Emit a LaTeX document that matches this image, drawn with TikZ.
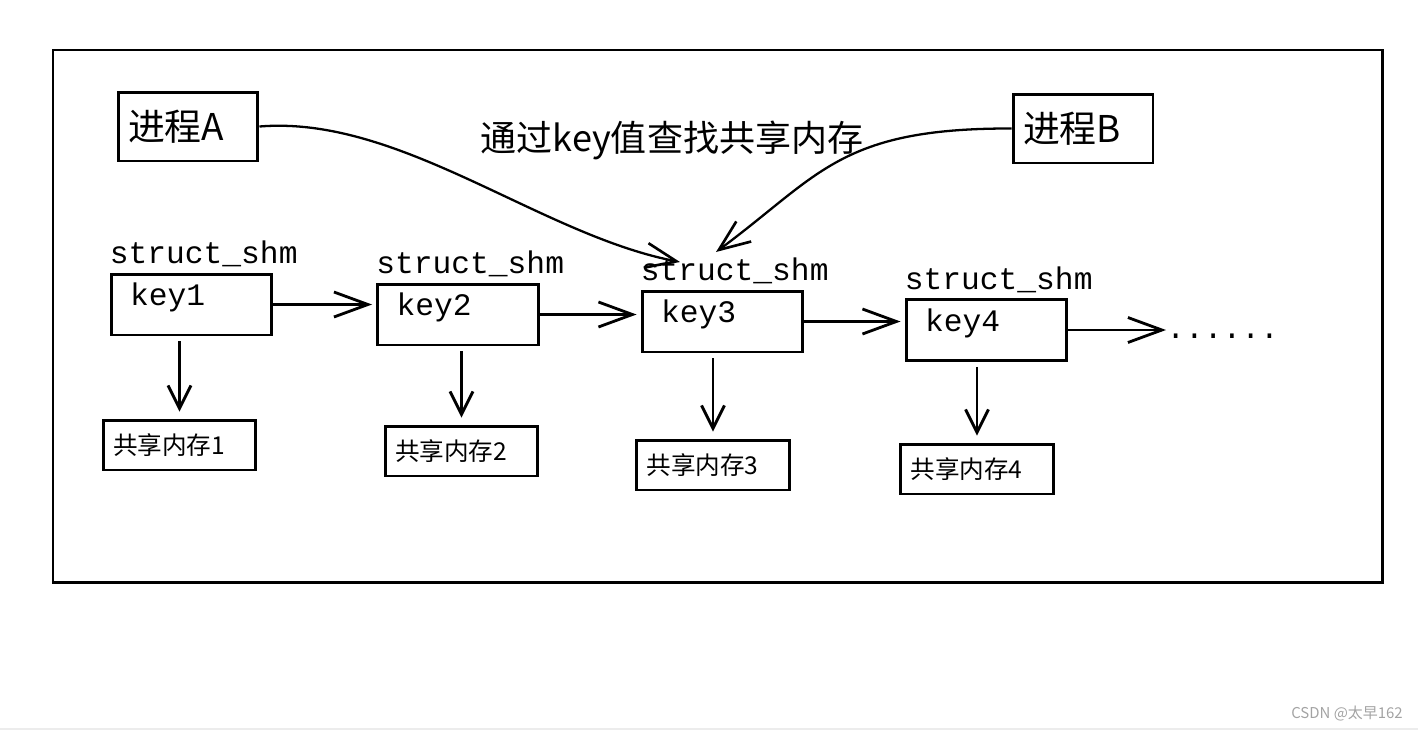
\documentclass[tikz,border=0pt]{standalone}
\usepackage{fontspec}
\setmainfont{Liberation Serif}
\setmonofont{Liberation Mono}
\newfontfamily\cjk{Noto Sans CJK SC}
\usetikzlibrary{arrows.meta, calc}
\definecolor{cInk}{HTML}{000000}
\definecolor{cMark}{HTML}{A3A3A3}
\definecolor{cRule}{HTML}{ECECEC}
\tikzset{
  box/.style={rectangle, draw=cInk, line width=1.7pt, inner ysep=0pt, align=left, text=cInk},
  procbox/.style={box, minimum height=1.38cm, inner xsep=0.2cm, text width=2.4cm,
                  font=\cjk\fontsize{21}{24}\selectfont},
  keybox/.style={box, minimum height=1.22cm, inner xsep=0.38cm, text width=2.46cm, text depth=0.4cm,
                 font=\ttfamily\fontsize{17.8}{20}\selectfont},
  membox/.style={box, minimum height=1.0cm, inner xsep=0.2cm, text width=2.66cm,
                 font=\cjk\fontsize{14}{16}\selectfont},
  tag/.style={inner sep=0pt, font=\ttfamily\fontsize{17.8}{20}\selectfont, text=cInk},
  harrow/.style={-{Straight Barb[length=0.68cm, width=0.5cm, line width=1.6pt]}, line width=1.5pt, draw=cInk},
  varrow/.style={-{Straight Barb[length=0.46cm, width=0.46cm, line width=1.6pt]}, line width=1.5pt, draw=cInk},
  carrow/.style={-{Straight Barb[length=0.62cm, width=0.5cm, line width=1.5pt]}, line width=1.3pt, draw=cInk},
  frame/.style={draw=cInk, line width=1.7pt},
}

\begin{document}
\begin{tikzpicture}[x=0.02cm, y=-0.02cm]
  \useasboundingbox (0,0) rectangle (1418,731);
  \draw[frame] (53,50) rectangle (1382,582);

  % ---- the two processes and the lookup
  \node[procbox] (pa) at (188,126.5) {进程A};
  \node[procbox] (pb) at (1083,128.5) {进程B};
  \node[font=\cjk\fontsize{20.5}{24}\selectfont, text=cInk, inner sep=0pt] (query) at (672,140) {通过key值查找共享内存};

  % ---- struct_shm chain
  \node[keybox] (k1) at (191.5,304.5) {key1};
  \node[keybox] (k2) at (458,314.5) {key2};
  \node[keybox] (k3) at (722.5,321.5) {key3};
  \node[keybox] (k4) at (986.5,330) {key4};
  \foreach \i in {1,2,3,4}
    \node[tag, anchor=south west] (s\i) at ([yshift=0.1cm]k\i.north west) {struct\_shm};
  \node[tag, anchor=base west] (dots) at (1166,338) {......};

  % ---- shared memory segments
  \node[membox] (m1) at (179.5,445) {共享内存1};
  \node[membox] (m2) at (461.5,451) {共享内存2};
  \node[membox] (m3) at (713,465) {共享内存3};
  \node[membox] (m4) at (977,469) {共享内存4};

  % ---- arrows
  \draw[harrow, shorten >=0.08cm] (k1.east) -- (k1.east -| k2.west);
  \draw[harrow, shorten >=0.08cm] (k2.east) -- (k2.east -| k3.west);
  \draw[harrow, shorten >=0.08cm] (k3.east) -- (k3.east -| k4.west);
  \draw[harrow] (k4.east) -- (k4.east -| dots.west);
  \foreach \i in {1,2,3,4}
    \draw[varrow, shorten <=0.1cm, shorten >=0.14cm] (m\i.north |- k\i.south) -- (m\i.north);

  \coordinate (tipA) at (680,262);
  \coordinate (tipB) at (716,252);
  \draw[carrow] (pa.east) .. controls (400,115) and (540,235) .. (tipA);
  \draw[carrow] (pb.west) .. controls (840,128) and (820,175) .. (tipB);

  % ---- page furniture
  \node[font=\cjk\fontsize{8.5}{10}\selectfont, text=cMark, anchor=east, inner sep=0pt] (wm) at (1403,714) {CSDN @太早162};
  \draw[cRule, line width=0.6pt] (0,729) -- (1418,729);
\end{tikzpicture}
\end{document}
